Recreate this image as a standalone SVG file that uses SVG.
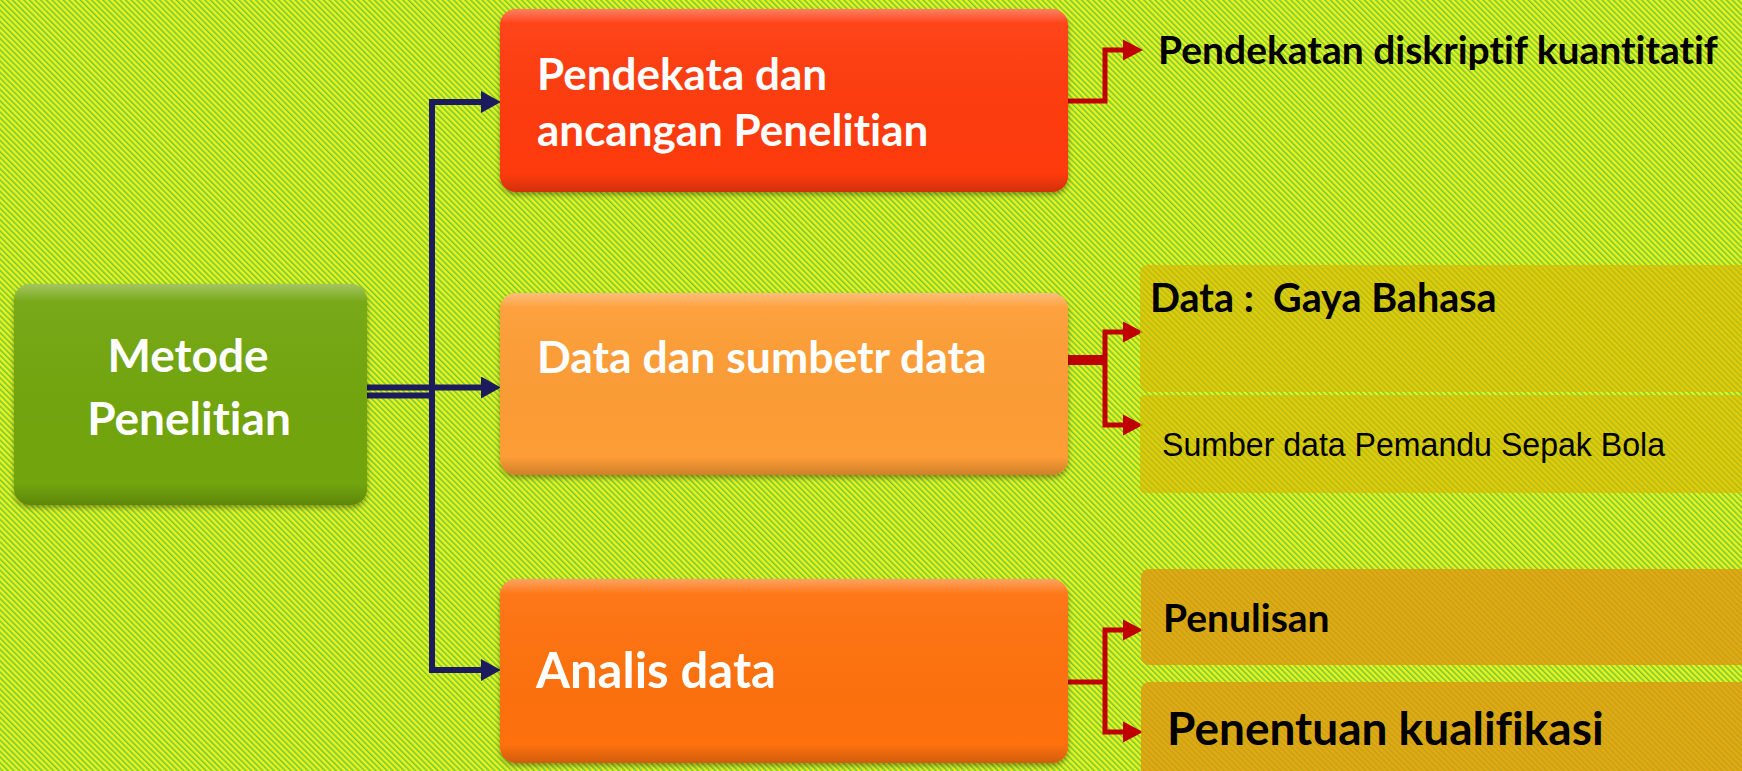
<svg xmlns="http://www.w3.org/2000/svg" width="1742" height="771" viewBox="0 0 1742 771">
<defs>
<pattern id="stripes" width="4" height="4" patternUnits="userSpaceOnUse" patternTransform="rotate(-45)">
<rect width="4" height="4" fill="#ecf21c"/>
<rect width="1.5" height="4" fill="#6cc83c"/>
</pattern>
<linearGradient id="shine" x1="0" y1="0" x2="0" y2="1">
<stop offset="0" stop-color="#ffffff" stop-opacity="0.35"/>
<stop offset="0.08" stop-color="#ffffff" stop-opacity="0.05"/>
<stop offset="0.9" stop-color="#000000" stop-opacity="0"/>
<stop offset="1" stop-color="#000000" stop-opacity="0.18"/>
</linearGradient>
<filter id="shadow" x="-5%" y="-5%" width="110%" height="115%">
<feDropShadow dx="0" dy="3" stdDeviation="2.5" flood-color="#000" flood-opacity="0.35"/>
</filter>
<marker id="navyArrow" markerUnits="userSpaceOnUse" markerWidth="20" markerHeight="22" viewBox="0 0 18 20" refX="0" refY="10" orient="auto">
<path d="M0,0 L18,10 L0,20 Z" fill="#1b1b5e"/>
</marker>
<marker id="redArrow" markerUnits="userSpaceOnUse" markerWidth="20" markerHeight="22" viewBox="0 0 17 18" refX="0" refY="9" orient="auto">
<path d="M0,0 L17,9 L0,18 Z" fill="#c00000"/>
</marker>
<style>
text{font-variant-ligatures:none;font-feature-settings:"liga" 0,"clig" 0,"dlig" 0;}
.node-text{font-family:Lato,"Open Sans",sans-serif;font-weight:700;fill:#ffffff;}
.side-text{font-family:Lato,"Open Sans",sans-serif;font-weight:700;fill:#000000;}
.plain-text{font-family:"Liberation Sans",Arial,sans-serif;font-weight:400;fill:#000000;}
.navy{fill:none;stroke:#1b1b5e;stroke-width:6;stroke-linejoin:miter;}
.red{fill:none;stroke:#c00000;stroke-width:5;stroke-linejoin:miter;}
.red-bar{fill:none;stroke:#c00000;stroke-width:10;}
.gold{fill:#dcb400;fill-opacity:0.62;}
.amber{fill:#df9610;fill-opacity:0.78;}
</style>
</defs>
<rect width="1742" height="771" fill="url(#stripes)"/>

<g id="connectors">
<path class="navy" d="M367,387.5 H481" marker-end="url(#navyArrow)"/>
<path class="navy" d="M367,395.5 H432"/>
<path class="navy" d="M432,400 V102 H481" marker-end="url(#navyArrow)"/>
<path class="navy" d="M432,380 V670 H481" marker-end="url(#navyArrow)"/>
<path class="red" d="M1068,101 H1105 V50 H1123" marker-end="url(#redArrow)"/>
<path class="red-bar" d="M1068,360 H1105"/>
<path class="red" d="M1105,360 V332 H1123" marker-end="url(#redArrow)"/>
<path class="red" d="M1105,360 V425 H1123" marker-end="url(#redArrow)"/>
<path class="red" d="M1068,682 H1105"/>
<path class="red" d="M1105,682 V630 H1123" marker-end="url(#redArrow)"/>
<path class="red" d="M1105,682 V732 H1123" marker-end="url(#redArrow)"/>
</g>

<g id="node-metode">
<rect x="14" y="284" width="353" height="221" rx="16" fill="#72a50a" filter="url(#shadow)"/>
<rect x="14" y="284" width="353" height="221" rx="16" fill="url(#shine)"/>
<text class="node-text" x="188" y="372" font-size="46" text-anchor="middle">Metode</text>
<text class="node-text" x="189" y="435" font-size="46" text-anchor="middle">Penelitian</text>
</g>

<g id="node-pendekatan">
<rect x="500" y="9" width="568" height="183" rx="16" fill="#fe3b08" filter="url(#shadow)"/>
<rect x="500" y="9" width="568" height="183" rx="16" fill="url(#shine)"/>
<text class="node-text" x="537" y="90" font-size="44">Pendekata dan</text>
<text class="node-text" x="537" y="146" font-size="44">ancangan Penelitian</text>
</g>

<g id="node-data">
<rect x="500" y="293" width="568" height="182" rx="16" fill="#fd9d36" filter="url(#shadow)"/>
<rect x="500" y="293" width="568" height="182" rx="16" fill="url(#shine)"/>
<text class="node-text" x="537" y="373" font-size="44.5">Data dan sumbetr data</text>
</g>

<g id="node-analis">
<rect x="500" y="579" width="568" height="184" rx="16" fill="#fe7109" filter="url(#shadow)"/>
<rect x="500" y="579" width="568" height="184" rx="16" fill="url(#shine)"/>
<text class="node-text" x="536" y="688" font-size="49">Analis data</text>
</g>

<g id="node-pendekatan-kuantitatif">
<text class="side-text" x="1158" y="64" font-size="39">Pendekatan diskriptif kuantitatif</text>
</g>

<g id="node-gaya-bahasa">
<rect class="gold" x="1140" y="265" width="612" height="127" rx="8"/>
<text class="side-text" x="1150" y="312" font-size="39.5" xml:space="preserve">Data :  Gaya Bahasa</text>
</g>

<g id="node-sumber">
<rect class="gold" x="1140" y="395" width="612" height="98" rx="4"/>
<text class="plain-text" x="1162" y="456" font-size="33" textLength="503" lengthAdjust="spacingAndGlyphs">Sumber data Pemandu Sepak Bola</text>
</g>

<g id="node-penulisan">
<rect class="amber" x="1141" y="569" width="611" height="96" rx="8"/>
<text class="side-text" x="1163" y="632" font-size="39">Penulisan</text>
</g>

<g id="node-penentuan">
<rect class="amber" x="1141" y="682" width="611" height="100" rx="8"/>
<text class="side-text" x="1167" y="745" font-size="46">Penentuan kualifikasi</text>
</g>
</svg>
